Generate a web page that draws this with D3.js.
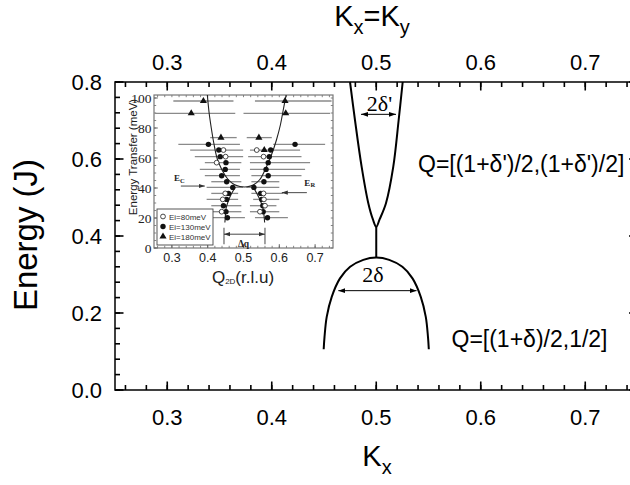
<!DOCTYPE html>
<html><head><meta charset="utf-8">
<script src="https://cdn.jsdelivr.net/npm/d3@7"></script>
<style>body{margin:0;background:#fff}svg{display:block}</style>
</head><body>
<svg id="c" width="630" height="485"></svg>
<script>
// ---------- main chart data ----------
const xMajorTicks = [0.3, 0.4, 0.5, 0.6, 0.7];
const yMajorTicks = [0.0, 0.2, 0.4, 0.6, 0.8];
// upper dispersion branch (2δ'), [k, E]
const upperBranch = [[0.4749,0.80],[0.4797,0.70],[0.486,0.58],[0.4924,0.485],[0.4968,0.443],[0.5,0.424],
                     [0.5032,0.443],[0.5093,0.485],[0.5163,0.58],[0.5214,0.70],[0.5253,0.80]];
const connector = [[0.5,0.424],[0.5,0.344]];
// lower dispersion branch (2δ), [k, E]
const lowerBranch = [[0.4497,0.106],[0.4505,0.138],[0.4526,0.19],[0.4574,0.242],[0.4653,0.29],[0.475,0.32],
                     [0.4876,0.338],[0.5,0.344],[0.5124,0.338],[0.525,0.32],[0.5347,0.29],[0.5426,0.242],
                     [0.5474,0.19],[0.5495,0.138],[0.5503,0.106]];
// double arrows [kFrom, kTo, E]
const arrowUpper = [0.4854, 0.5189, 0.716];
const arrowLower = [0.4637, 0.5386, 0.258];

// ---------- inset data ----------
const insetXTicks = [0.3, 0.4, 0.5, 0.6, 0.7];
const insetYTicks = [0, 20, 40, 60, 80, 100];
const insetCurve = [[0.399,102],[0.404,90],[0.41,80],[0.417,70],[0.426,60],[0.44,52],[0.456,46],[0.474,42.3],
                    [0.49,41],[0.51,40.8],[0.527,42],[0.545,45.5],[0.56,52],[0.578,62],[0.592,72],[0.603,82],
                    [0.611,92],[0.619,102]];
const insetLowerLeft = [[0.477,40.5],[0.466,36],[0.457,31],[0.451,26],[0.449,20],[0.448,17]];
const insetLowerRight = [[0.527,40.5],[0.538,36],[0.548,31],[0.555,26],[0.558,20],[0.559,17]];
const ei80 = [[0.444,65.3],[0.537,65.3],[0.45,60.9],[0.556,60.9],[0.425,56.9],[0.449,36.4],[0.556,36.4],
              [0.442,32.4],[0.557,32.4],[0.56,28.2],[0.439,24.2],[0.546,24.2]];
const ei130 = [[0.402,69.1],[0.644,69.1],[0.431,65.3],[0.576,65.3],[0.435,60.9],[0.572,60.9],[0.451,56.9],
               [0.569,56.9],[0.449,52.4],[0.563,52.4],[0.439,48.2],[0.569,48.2],[0.453,44.2],[0.557,44.2],
               [0.47,40.4],[0.529,40.4],[0.458,36.4],[0.548,36.4],[0.453,32.4],[0.551,32.4],[0.444,28.2],
               [0.554,28.2],[0.451,24.2],[0.555,24.2],[0.455,20.2],[0.567,20.2]];
const ei180 = [[0.388,98],[0.616,98],[0.354,89.8],[0.618,89.8],[0.437,73.6],[0.543,73.6],[0.558,65.3]];
// horizontal error bars [E, qLow, qHigh]
const insetBars = [[98,0.304,0.472],[98,0.532,0.746],[89.8,0.253,0.477],[89.8,0.5,0.742],
  [73.6,0.407,0.481],[73.6,0.509,0.579],[69.1,0.318,0.49],[69.1,0.583,0.728],
  [65.3,0.351,0.499],[65.3,0.518,0.658],[60.9,0.364,0.499],[60.9,0.513,0.662],
  [56.9,0.392,0.494],[56.9,0.518,0.686],[52.4,0.378,0.49],[52.4,0.518,0.672],
  [48.2,0.392,0.49],[48.2,0.522,0.662],[44.2,0.41,0.494],[44.2,0.522,0.6],
  [40.4,0.397,0.499],[40.4,0.508,0.6],[36.4,0.41,0.485],[36.4,0.522,0.611],
  [32.4,0.397,0.485],[32.4,0.527,0.6],[28.2,0.41,0.494],[28.2,0.518,0.592],
  [24.2,0.41,0.494],[24.2,0.518,0.6],[20.2,0.397,0.504],[20.2,0.532,0.624]];
const arrowEc = [0.325, 0.392, 41.3];
const arrowEr = [0.677, 0.607, 36.9];
const deltaQ = [0.4455, 0.56, 9.2];
const legendLabels = ["Ei=80meV", "Ei=130meV", "Ei=180meV"];

// ---------- drawing ----------
const svg = d3.select("#c");
const SANS = "'Liberation Sans', Arial, Helvetica, sans-serif";
const SERIF = "'Liberation Serif', 'Times New Roman', serif";

const defs = svg.append("defs");
function marker(id, size, color){
  defs.append("marker").attr("id", id).attr("viewBox","0 0 10 10").attr("refX",10).attr("refY",5)
    .attr("markerWidth",size).attr("markerHeight",size).attr("markerUnits","userSpaceOnUse")
    .attr("orient","auto-start-reverse")
    .append("path").attr("d","M0,1.5L10,5L0,8.5z").attr("fill",color);
}
marker("ah", 7, "#000");
marker("ahs", 6, "#333");

const L = 115, R = 637.5, T = 82, B = 390;
const x = d3.scaleLinear().domain([0.25, 0.75]).range([L, R]);
const y = d3.scaleLinear().domain([0, 0.8]).range([B, T]);

const xMinor = d3.range(13, 38).map(i => i * 0.02);
const yMinor = d3.range(0, 21).map(i => i * 0.04);

function ticksX(g, scale, vals, y0, len, col, sw){
  g.selectAll(null).data(vals).join("line")
    .attr("x1",d=>scale(d)).attr("x2",d=>scale(d)).attr("y1",y0).attr("y2",y0+len)
    .attr("stroke",col).attr("stroke-width",sw);
}
function ticksY(g, scale, vals, x0, len, col, sw){
  g.selectAll(null).data(vals).join("line")
    .attr("y1",d=>scale(d)).attr("y2",d=>scale(d)).attr("x1",x0).attr("x2",x0+len)
    .attr("stroke",col).attr("stroke-width",sw);
}
const ax = svg.append("g");
ticksX(ax, x, xMinor, B, -5, "#000", 1.6);
ticksX(ax, x, xMajorTicks, B, -8.5, "#000", 1.6);
ticksX(ax, x, xMinor, T, 5, "#000", 1.6);
ticksX(ax, x, xMajorTicks, T, 8.5, "#000", 1.6);
ticksY(ax, y, yMinor, L, 5, "#000", 1.6);
ticksY(ax, y, yMajorTicks, L, 8.5, "#000", 1.6);
ticksY(ax, y, yMinor, R, -5, "#000", 1.6);
ticksY(ax, y, yMajorTicks, R, -8.5, "#000", 1.6);

const fmt = d3.format(".1f");
ax.selectAll(null).data(xMajorTicks).join("text")
  .attr("x",d=>x(d)).attr("y",B+35).attr("text-anchor","middle")
  .attr("font-family",SANS).attr("font-size",22).text(fmt);
ax.selectAll(null).data(xMajorTicks).join("text")
  .attr("x",d=>x(d)).attr("y",T-12).attr("text-anchor","middle")
  .attr("font-family",SANS).attr("font-size",22).text(fmt);
ax.selectAll(null).data(yMajorTicks).join("text")
  .attr("x",L-13).attr("y",d=>y(d)+8).attr("text-anchor","end")
  .attr("font-family",SANS).attr("font-size",22).text(fmt);

ax.append("rect").attr("x",L).attr("y",T).attr("width",R-L).attr("height",B-T)
  .attr("fill","none").attr("stroke","#000").attr("stroke-width",1.5);

// axis titles
svg.append("text").attr("transform","translate(37,235) rotate(-90)").attr("text-anchor","middle")
  .attr("font-family",SANS).attr("font-size",33).text("Energy (J)");
const bt = svg.append("text").attr("x",377).attr("y",466).attr("text-anchor","middle")
  .attr("font-family",SANS).attr("font-size",29);
bt.append("tspan").text("K");
bt.append("tspan").attr("font-size",20).attr("dy",8).text("x");
const tt = svg.append("text").attr("x",372).attr("y",26).attr("text-anchor","middle")
  .attr("font-family",SANS).attr("font-size",29);
tt.append("tspan").text("K");
tt.append("tspan").attr("font-size",20).attr("dy",8).text("x");
tt.append("tspan").attr("dy",-8).text("=K");
tt.append("tspan").attr("font-size",20).attr("dy",8).text("y");

// main curves
const line = d3.line().x(d=>x(d[0])).y(d=>y(d[1])).curve(d3.curveCatmullRom.alpha(0.5));
const plot = svg.append("g");
[upperBranch, lowerBranch].forEach(p=>plot.append("path").attr("d",line(p))
  .attr("fill","none").attr("stroke","#000").attr("stroke-width",2));
plot.append("path").attr("d",d3.line().x(d=>x(d[0])).y(d=>y(d[1]))(connector))
  .attr("fill","none").attr("stroke","#000").attr("stroke-width",2);
[arrowUpper, arrowLower].forEach(a=>plot.append("line")
  .attr("x1",x(a[0])).attr("x2",x(a[1])).attr("y1",y(a[2])).attr("y2",y(a[2]))
  .attr("stroke","#000").attr("stroke-width",1)
  .attr("marker-start","url(#ah)").attr("marker-end","url(#ah)"));
plot.append("text").attr("x",379.5).attr("y",110.5).attr("text-anchor","middle")
  .attr("font-family",SERIF).attr("font-size",22).text("2δ'");
plot.append("text").attr("x",373).attr("y",281.5).attr("text-anchor","middle")
  .attr("font-family",SERIF).attr("font-size",22).text("2δ");
plot.append("text").attr("x",418).attr("y",171.5).attr("font-family",SANS).attr("font-size",23)
  .text("Q=[(1+δ')/2,(1+δ')/2]");
plot.append("text").attr("x",451.5).attr("y",346.5).attr("font-family",SANS).attr("font-size",23)
  .text("Q=[(1+δ)/2,1/2]");

// ---------- inset ----------
const iL = 154, iR = 333, iT = 95, iB = 248;
const ix = d3.scaleLinear().domain([0.25, 0.75]).range([iL, iR]);
const iy = d3.scaleLinear().domain([0, 102]).range([iB, iT]);
const ins = svg.append("g");
ins.append("rect").attr("x",iL).attr("y",iT).attr("width",iR-iL).attr("height",iB-iT)
  .attr("fill","#fff").attr("stroke","#777").attr("stroke-width",1.2);

const ixMinor = d3.range(13, 38).map(i => i * 0.02);
const iyMinor = d3.range(0, 21).map(i => i * 5);
ticksX(ins, ix, ixMinor, iB, -2.2, "#777", 0.9);
ticksX(ins, ix, insetXTicks, iB, -3.8, "#666", 1);
ticksX(ins, ix, ixMinor, iT, 2.2, "#777", 0.9);
ticksY(ins, iy, iyMinor, iL, 2.2, "#777", 0.9);
ticksY(ins, iy, insetYTicks, iL, 3.8, "#666", 1);
ticksY(ins, iy, iyMinor, iR, -2.2, "#777", 0.9);

ins.selectAll(null).data(insetXTicks).join("text")
  .attr("x",d=>ix(d)).attr("y",iB+14).attr("text-anchor","middle")
  .attr("font-family",SANS).attr("font-size",12.5).attr("fill","#222").text(fmt);
ins.selectAll(null).data(insetYTicks).join("text")
  .attr("x",iL-2.5).attr("y",d=>iy(d)+4.5).attr("text-anchor","end")
  .attr("font-family",SERIF).attr("font-size",13.5).attr("fill","#222").text(d3.format("d"));

ins.append("text").attr("transform","translate(137,157) rotate(-90)").attr("text-anchor","middle")
  .attr("font-family",SANS).attr("font-size",11.5).attr("fill","#222").text("Energy Transfer (meV)");
const qt = ins.append("text").attr("x",243).attr("y",283).attr("text-anchor","middle")
  .attr("font-family",SANS).attr("font-size",17).attr("fill","#222");
qt.append("tspan").text("Q");
qt.append("tspan").attr("font-size",8).attr("dy",1).text("2D");
qt.append("tspan").attr("dy",-1).text("(r.l.u)");

const dataG = ins.append("g");
dataG.selectAll("line.eb").data(insetBars).join("line").attr("class","eb")
  .attr("x1",d=>ix(d[1])).attr("x2",d=>ix(d[2])).attr("y1",d=>iy(d[0])).attr("y2",d=>iy(d[0]))
  .attr("stroke","#8a8a8a").attr("stroke-width",1.3);
const iline = d3.line().x(d=>ix(d[0])).y(d=>iy(d[1])).curve(d3.curveCatmullRom.alpha(0.5));
[insetCurve, insetLowerLeft, insetLowerRight].forEach(p=>dataG.append("path").attr("d",iline(p))
  .attr("fill","none").attr("stroke","#222").attr("stroke-width",1.1));
dataG.selectAll("circle.f").data(ei130).join("circle").attr("class","f")
  .attr("cx",d=>ix(d[0])).attr("cy",d=>iy(d[1])).attr("r",2.7).attr("fill","#111");
dataG.selectAll("circle.o").data(ei80).join("circle").attr("class","o")
  .attr("cx",d=>ix(d[0])).attr("cy",d=>iy(d[1])).attr("r",2.4).attr("fill","#fff").attr("stroke","#333").attr("stroke-width",0.9);
const tri = d3.symbol().type(d3.symbolTriangle).size(22);
dataG.selectAll("path.t").data(ei180).join("path").attr("class","t")
  .attr("transform",d=>`translate(${ix(d[0])},${iy(d[1])})`).attr("d",tri).attr("fill","#111");

// E_C / E_R arrows
[arrowEc, arrowEr].forEach(a=>dataG.append("line")
  .attr("x1",ix(a[0])).attr("x2",ix(a[1])).attr("y1",iy(a[2])).attr("y2",iy(a[2]))
  .attr("stroke","#333").attr("stroke-width",0.9).attr("marker-end","url(#ahs)"));
function eLabel(xp, yp, sub){
  const t = dataG.append("text").attr("x",xp).attr("y",yp).attr("font-family",SERIF)
    .attr("font-size",9).attr("font-weight","bold").attr("fill","#222");
  t.append("tspan").text("E");
  t.append("tspan").attr("font-size",6.5).attr("dy",1.5).text(sub);
}
eLabel(ix(0.306), iy(44.5), "C");
eLabel(ix(0.67), iy(41.5), "R");
// Δq
dataG.append("line").attr("x1",ix(deltaQ[0])).attr("x2",ix(deltaQ[1])).attr("y1",iy(deltaQ[2])).attr("y2",iy(deltaQ[2]))
  .attr("stroke","#333").attr("stroke-width",0.9).attr("marker-start","url(#ahs)").attr("marker-end","url(#ahs)");
[deltaQ[0], deltaQ[1]].forEach(q=>dataG.append("line").attr("x1",ix(q)).attr("x2",ix(q))
  .attr("y1",iy(13.5)).attr("y2",iy(2.5)).attr("stroke","#333").attr("stroke-width",0.9));
dataG.append("text").attr("x",ix(0.5)).attr("y",iy(1)).attr("text-anchor","middle")
  .attr("font-family",SERIF).attr("font-size",9.5).attr("font-weight","bold").attr("fill","#222").text("Δq");

// legend
const lg = ins.append("g");
lg.append("rect").attr("x",157).attr("y",209).attr("width",56).attr("height",36)
  .attr("fill","#fff").attr("stroke","#444").attr("stroke-width",0.9);
const legendSymbols = [
  g=>g.append("circle").attr("r",2.4).attr("fill","#fff").attr("stroke","#333").attr("stroke-width",0.9),
  g=>g.append("circle").attr("r",2.7).attr("fill","#111"),
  g=>g.append("path").attr("d",tri).attr("fill","#111")
];
legendLabels.forEach((lab,i)=>{
  const g = lg.append("g").attr("transform",`translate(163,${216.5 + i*10})`);
  legendSymbols[i](g);
  g.append("text").attr("x",6).attr("y",3).attr("font-family",SANS).attr("font-size",8)
    .attr("fill","#333").text(lab);
});
</script>
</body></html>
